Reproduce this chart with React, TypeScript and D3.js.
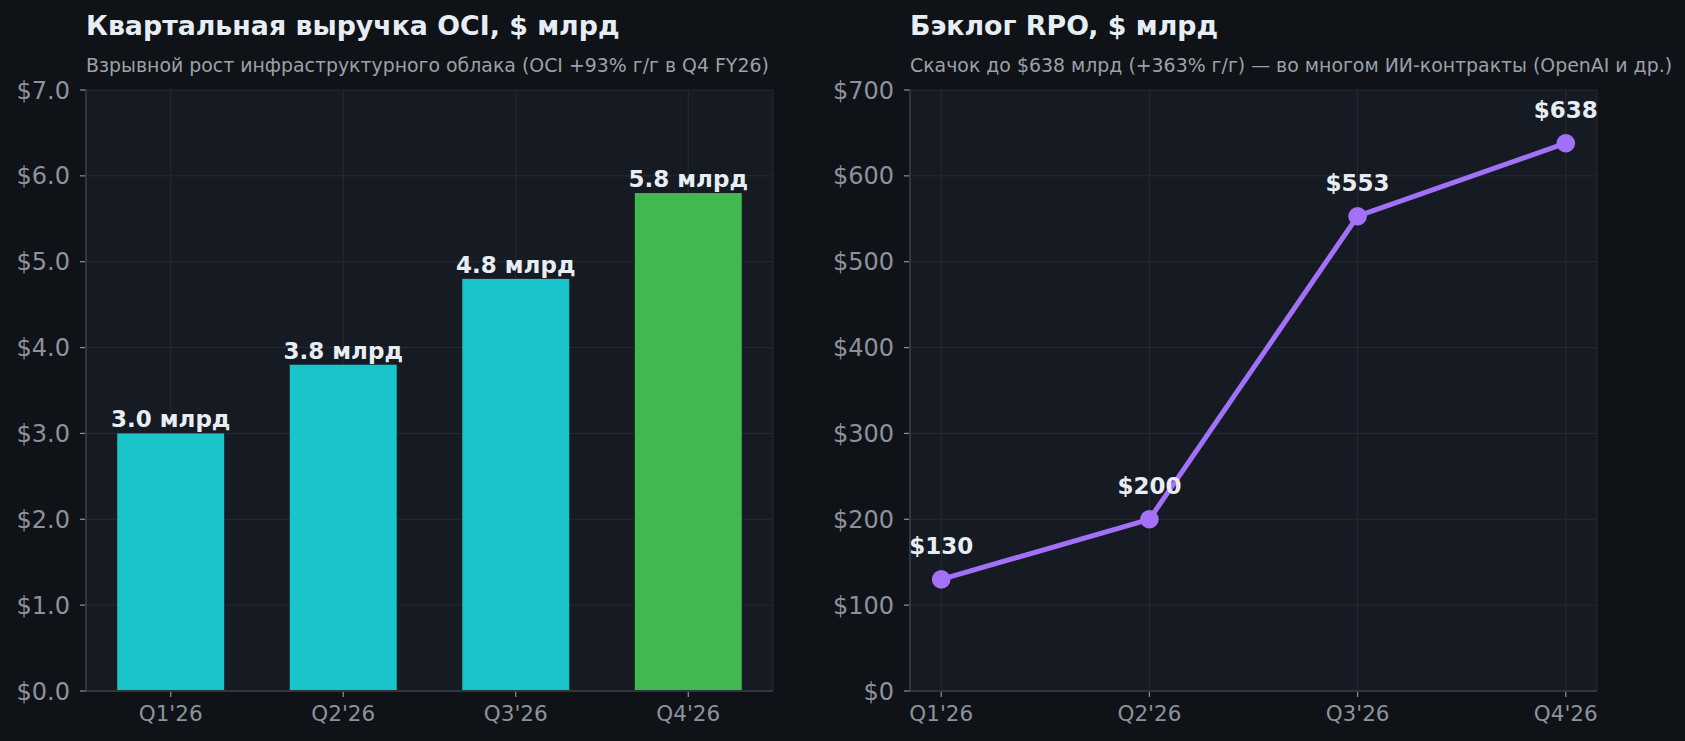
import { useEffect, useRef } from "react";
import * as d3 from "d3";

const quarters = ["Q1'26", "Q2'26", "Q3'26", "Q4'26"];
const ociRevenue = [3.0, 3.8, 4.8, 5.8];
const ociLabels = ["3.0 млрд", "3.8 млрд", "4.8 млрд", "5.8 млрд"];
const rpoBacklog = [130, 200, 553, 638];
const rpoLabels = ["$130", "$200", "$553", "$638"];
const ociTicks = [0, 1, 2, 3, 4, 5, 6, 7];
const rpoTicks = [0, 100, 200, 300, 400, 500, 600, 700];

const W = 1685;
const H = 741;
const FONT = "'DejaVu Sans', sans-serif";
const BG = "#0f1317";
const PANEL = "#161a23";
const GRID = "#252a34";
const SPINE = "#30363d";
const MUTED = "#8b929b";
const TEXT = "#e6edf3";

const App = () => {
  const svgRef = useRef<SVGSVGElement>(null);

  useEffect(() => {
    document.body.style.margin = "0";
    document.body.style.background = BG;

    const svg = d3.select(svgRef.current);
    svg.selectAll("*").remove();
    svg.append("rect").attr("width", W).attr("height", H).attr("fill", BG);

    const top = 90;
    const bottom = 691;

    const drawFrame = (
      left: number,
      right: number,
      y: d3.ScaleLinear<number, number>,
      yTicks: number[],
      fmt: (v: number) => string,
      xPos: number[],
      title: string,
      subtitle: string
    ) => {
      const g = svg.append("g");
      g.append("rect")
        .attr("x", left)
        .attr("y", top)
        .attr("width", right - left)
        .attr("height", bottom - top)
        .attr("fill", PANEL);

      // horizontal grid
      g.selectAll(".hg")
        .data(yTicks)
        .join("line")
        .attr("x1", left)
        .attr("x2", right)
        .attr("y1", (d) => y(d))
        .attr("y2", (d) => y(d))
        .attr("stroke", GRID)
        .attr("stroke-width", 1);
      // vertical grid
      g.selectAll(".vg")
        .data(xPos)
        .join("line")
        .attr("x1", (d) => d)
        .attr("x2", (d) => d)
        .attr("y1", top)
        .attr("y2", bottom)
        .attr("stroke", GRID)
        .attr("stroke-width", 1);
      // frame
      g.append("line")
        .attr("x1", right)
        .attr("x2", right)
        .attr("y1", top)
        .attr("y2", bottom)
        .attr("stroke", GRID);

      // y ticks
      g.selectAll(".yt")
        .data(yTicks)
        .join("line")
        .attr("x1", left - 6)
        .attr("x2", left)
        .attr("y1", (d) => y(d))
        .attr("y2", (d) => y(d))
        .attr("stroke", MUTED)
        .attr("stroke-width", 1.2);
      g.selectAll(".yl")
        .data(yTicks)
        .join("text")
        .attr("x", left - 16)
        .attr("y", (d) => y(d))
        .attr("dy", "0.36em")
        .attr("text-anchor", "end")
        .attr("font-family", FONT)
        .attr("font-size", 24)
        .attr("fill", MUTED)
        .text((d) => fmt(d));

      // x ticks
      g.selectAll(".xt")
        .data(xPos)
        .join("line")
        .attr("x1", (d) => d)
        .attr("x2", (d) => d)
        .attr("y1", bottom)
        .attr("y2", bottom + 6)
        .attr("stroke", MUTED)
        .attr("stroke-width", 1.2);
      g.selectAll(".xl")
        .data(quarters)
        .join("text")
        .attr("x", (_, i) => xPos[i])
        .attr("y", 721)
        .attr("text-anchor", "middle")
        .attr("font-family", FONT)
        .attr("font-size", 21.5)
        .attr("fill", MUTED)
        .text((d) => d);

      // titles
      g.append("text")
        .attr("x", left)
        .attr("y", 35)
        .attr("font-family", FONT)
        .attr("font-size", 26.8)
        .attr("font-weight", "bold")
        .attr("fill", TEXT)
        .text(title);
      g.append("text")
        .attr("x", left)
        .attr("y", 72)
        .attr("font-family", FONT)
        .attr("font-size", 18.9)
        .attr("fill", "#9aa1aa")
        .text(subtitle);
      return g;
    };

    // ---------- left: OCI bars ----------
    const lLeft = 86;
    const lRight = 773;
    const xBar = d3.scaleLinear().domain([-0.491, 3.491]).range([lLeft, lRight]);
    const yBar = d3.scaleLinear().domain([0, 7]).range([bottom, top]);
    const barW = xBar(0.62) - xBar(0);

    const gl = drawFrame(
      lLeft,
      lRight,
      yBar,
      ociTicks,
      (v) => `$${v.toFixed(1)}`,
      quarters.map((_, i) => xBar(i)),
      "Квартальная выручка OCI, $ млрд",
      "Взрывной рост инфраструктурного облака (OCI +93% г/г в Q4 FY26)"
    );

    gl.selectAll(".bar")
      .data(ociRevenue)
      .join("rect")
      .attr("x", (_, i) => xBar(i) - barW / 2)
      .attr("y", (d) => yBar(d))
      .attr("width", barW)
      .attr("height", (d) => bottom - yBar(d))
      .attr("fill", (_, i) => (i === ociRevenue.length - 1 ? "#3fb950" : "#1ac4cb"));

    gl.selectAll(".bl")
      .data(ociRevenue)
      .join("text")
      .attr("x", (_, i) => xBar(i))
      .attr("y", (d) => yBar(d) - 6)
      .attr("text-anchor", "middle")
      .attr("font-family", FONT)
      .attr("font-size", 23)
      .attr("font-weight", "bold")
      .attr("fill", TEXT)
      .text((_, i) => ociLabels[i]);

    // spines
    gl.append("line")
      .attr("x1", lLeft)
      .attr("x2", lRight)
      .attr("y1", bottom)
      .attr("y2", bottom)
      .attr("stroke", SPINE)
      .attr("stroke-width", 2);
    gl.append("line")
      .attr("x1", lLeft)
      .attr("x2", lLeft)
      .attr("y1", top)
      .attr("y2", bottom)
      .attr("stroke", SPINE)
      .attr("stroke-width", 2);

    // ---------- right: RPO line ----------
    const rLeft = 910;
    const rRight = 1597;
    const xLine = d3.scaleLinear().domain([-0.15, 3.15]).range([rLeft, rRight]);
    const yLine = d3.scaleLinear().domain([0, 700]).range([bottom, top]);

    const gr = drawFrame(
      rLeft,
      rRight,
      yLine,
      rpoTicks,
      (v) => `$${v}`,
      quarters.map((_, i) => xLine(i)),
      "Бэклог RPO, $ млрд",
      "Скачок до $638 млрд (+363% г/г) — во многом ИИ-контракты (OpenAI и др.)"
    );

    gr.append("line")
      .attr("x1", rLeft)
      .attr("x2", rRight)
      .attr("y1", bottom)
      .attr("y2", bottom)
      .attr("stroke", SPINE)
      .attr("stroke-width", 2);
    gr.append("line")
      .attr("x1", rLeft)
      .attr("x2", rLeft)
      .attr("y1", top)
      .attr("y2", bottom)
      .attr("stroke", SPINE)
      .attr("stroke-width", 2);

    const lineGen = d3
      .line<number>()
      .x((_, i) => xLine(i))
      .y((d) => yLine(d));

    gr.append("path")
      .attr("d", lineGen(rpoBacklog))
      .attr("fill", "none")
      .attr("stroke", "#a371f7")
      .attr("stroke-width", 5)
      .attr("stroke-linejoin", "round");

    gr.selectAll(".pt")
      .data(rpoBacklog)
      .join("circle")
      .attr("cx", (_, i) => xLine(i))
      .attr("cy", (d) => yLine(d))
      .attr("r", 9.3)
      .attr("fill", "#a371f7");

    gr.selectAll(".pl")
      .data(rpoBacklog)
      .join("text")
      .attr("x", (_, i) => xLine(i))
      .attr("y", (d) => yLine(d) - 25)
      .attr("text-anchor", "middle")
      .attr("font-family", FONT)
      .attr("font-size", 23)
      .attr("font-weight", "bold")
      .attr("fill", TEXT)
      .text((_, i) => rpoLabels[i]);
  }, []);

  return (
    <svg
      ref={svgRef}
      width={W}
      height={H}
      viewBox={`0 0 ${W} ${H}`}
      style={{ display: "block", position: "absolute", left: 0, top: 0 }}
    />
  );
};

export default App;
